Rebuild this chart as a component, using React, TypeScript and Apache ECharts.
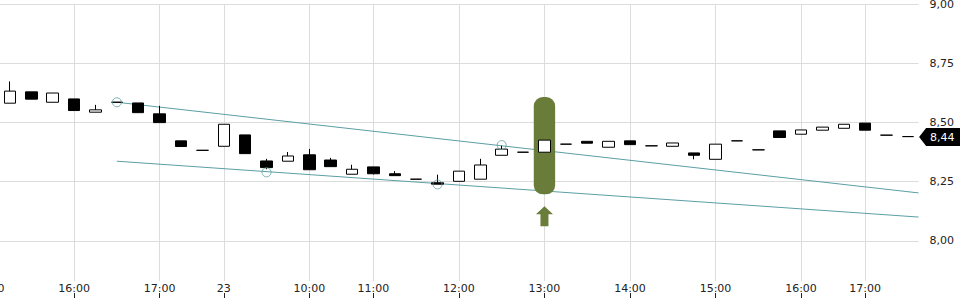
import React, { useEffect, useRef } from "react";
import * as echarts from "echarts";

// 15-minute slots; the first one (15:00) has no visible candle (scrolled off)
const categories = [
  "15:00", "15:15", "15:30", "15:45", "16:00", "16:15", "16:30", "16:45", "17:00", "17:15", "17:30",
  "23", "09:15", "09:30", "09:45", "10:00", "10:15", "10:30", "11:00", "11:15", "11:30", "11:45",
  "12:00", "12:15", "12:30", "12:45", "13:00", "13:15", "13:30", "13:45", "14:00", "14:15", "14:30",
  "14:45", "15:00", "15:15", "15:30", "15:45", "16:00", "16:15", "16:30", "17:00", "17:15", "17:30",
];
const tickLabels = ["15:00", "16:00", "17:00", "23", "10:00", "11:00", "12:00", "13:00", "14:00"];

const opens = [
  null, 8.581, 8.629, 8.585, 8.599, 8.543, 8.585, 8.582, 8.536, 8.422, 8.382,
  8.399, 8.447, 8.337, 8.336, 8.363, 8.341, 8.281, 8.312, 8.283, 8.26, 8.245,
  8.251, 8.26, 8.361, 8.374, 8.374, 8.408, 8.42, 8.395, 8.422, 8.401, 8.399,
  8.371, 8.344, 8.422, 8.384, 8.464, 8.45, 8.467, 8.475, 8.497, 8.446, 8.44,
];
const closes = [
  null, 8.632, 8.598, 8.624, 8.55, 8.553, 8.585, 8.541, 8.499, 8.398, 8.382,
  8.492, 8.368, 8.309, 8.358, 8.3, 8.313, 8.302, 8.283, 8.275, 8.26, 8.239,
  8.294, 8.32, 8.387, 8.374, 8.425, 8.408, 8.412, 8.42, 8.406, 8.401, 8.413,
  8.361, 8.408, 8.422, 8.384, 8.436, 8.468, 8.48, 8.492, 8.467, 8.446, 8.44,
];
const lows = [
  null, 8.581, 8.598, 8.585, 8.55, 8.543, 8.585, 8.541, 8.499, 8.398, 8.382,
  8.399, 8.368, 8.302, 8.336, 8.3, 8.313, 8.281, 8.28, 8.275, 8.26, 8.239,
  8.251, 8.26, 8.361, 8.374, 8.374, 8.408, 8.412, 8.395, 8.406, 8.401, 8.399,
  8.344, 8.344, 8.422, 8.384, 8.436, 8.45, 8.467, 8.475, 8.467, 8.446, 8.44,
];
const highs = [
  null, 8.673, 8.629, 8.624, 8.599, 8.574, 8.585, 8.582, 8.57, 8.422, 8.382,
  8.492, 8.447, 8.346, 8.375, 8.388, 8.35, 8.321, 8.312, 8.294, 8.26, 8.279,
  8.294, 8.346, 8.401, 8.374, 8.425, 8.408, 8.42, 8.42, 8.422, 8.401, 8.413,
  8.371, 8.408, 8.422, 8.384, 8.464, 8.468, 8.48, 8.492, 8.497, 8.446, 8.44,
];

// trend channel (x in slot index units, y in price)
const upperTrend = [[6, 8.585], [43.5, 8.202]];
const lowerTrend = [[6, 8.336], [43.5, 8.1]];
const touchPoints = [[6, 8.585], [13, 8.289], [21, 8.238], [24, 8.404]];
// highlighted slot: [index, top price, bottom price]
const highlight = [[26, 8.607, 8.196]];
const lastPrice = [[43, 8.44]];

const FONT = "DejaVu Sans";
const TEAL = "#5b9fa4";
const OLIVE = "#6a7c3a";
const GRID = "#dcdcdc";
const fmt = (v: number) => v.toFixed(2).replace(".", ",");
const isLabeled = (_i: number, v: string) => tickLabels.includes(v);

export default function App() {
  const ref = useRef<HTMLDivElement>(null);
  useEffect(() => {
    const chart = echarts.init(ref.current!, null, { renderer: "svg" });
    const candleData = opens.map((o, i) =>
      o === null ? ["-", "-", "-", "-"] : [o, closes[i], lows[i], highs[i]]
    );
    chart.setOption({
      animation: false,
      grid: {
        left: -22.1,
        right: 41.4,
        top: 4,
        height: 277,
        containLabel: false,
        outerBoundsMode: "none",
      },
      xAxis: [
        {
          type: "category",
          data: categories,
          boundaryGap: true,
          axisLine: { show: false },
          axisTick: { show: false },
          axisLabel: {
            interval: 0,
            hideOverlap: false,
            margin: 2,
            color: "#222",
            fontFamily: FONT,
            fontSize: 11,
            formatter: (v: string) => (tickLabels.includes(v) ? v : ""),
          },
          splitLine: {
            show: true,
            alignWithLabel: true,
            interval: isLabeled,
            lineStyle: { color: GRID, width: 1 },
          },
        },
        {
          type: "category",
          data: categories,
          position: "bottom",
          offset: 12,
          axisLine: { show: false },
          axisLabel: { show: false },
          axisTick: {
            show: true,
            alignWithLabel: true,
            interval: isLabeled,
            length: 5,
            lineStyle: { color: "#222" },
          },
          splitLine: { show: false },
        },
        { type: "value", position: "top", min: -0.5, max: 43.5, show: false },
      ],
      yAxis: {
        type: "value",
        position: "right",
        min: 7.83,
        max: 9,
        minInterval: 0.25,
        maxInterval: 0.25,
        axisLine: { show: false },
        axisTick: { show: true, length: 4, lineStyle: { color: "#222" } },
        axisLabel: {
          showMinLabel: false,
          margin: 11,
          color: "#222",
          fontFamily: FONT,
          fontSize: 11,
          formatter: fmt,
        },
        splitLine: { show: true, showMinLine: false, lineStyle: { color: GRID, width: 1 } },
      },
      series: [
        {
          type: "line",
          xAxisIndex: 2,
          data: upperTrend,
          showSymbol: false,
          z: 2,
          lineStyle: { color: TEAL, width: 1 },
        },
        {
          type: "line",
          xAxisIndex: 2,
          data: lowerTrend,
          showSymbol: false,
          z: 2,
          lineStyle: { color: TEAL, width: 1 },
        },
        {
          type: "custom",
          xAxisIndex: 0,
          z: 3,
          data: highlight,
          encode: { x: 0, y: [1, 2] },
          renderItem: (_p: any, api: any) => {
            const x = api.value(0);
            const top = api.coord([x, api.value(1)]);
            const bot = api.coord([x, api.value(2)]);
            const bw = api.size([1, 0], [x, api.value(1)])[0];
            const cx = top[0];
            const yb = bot[1];
            return {
              type: "group",
              children: [
                {
                  type: "rect",
                  shape: { x: cx - bw / 2, y: top[1], width: bw, height: yb - top[1], r: 9 },
                  style: { fill: OLIVE },
                },
                {
                  type: "polygon",
                  shape: {
                    points: [
                      [cx, yb + 12],
                      [cx + 8.5, yb + 20],
                      [cx + 4, yb + 20],
                      [cx + 4, yb + 32],
                      [cx - 4, yb + 32],
                      [cx - 4, yb + 20],
                      [cx - 8.5, yb + 20],
                    ],
                  },
                  style: { fill: OLIVE },
                },
              ],
            };
          },
        },
        {
          type: "candlestick",
          xAxisIndex: 0,
          z: 4,
          barWidth: 12,
          data: candleData,
          itemStyle: {
            color: "#ffffff",
            color0: "#000000",
            borderColor: "#000000",
            borderColor0: "#000000",
            borderWidth: 1,
          },
        },
        {
          type: "scatter",
          xAxisIndex: 2,
          z: 5,
          data: touchPoints,
          symbol: "circle",
          symbolSize: 9,
          itemStyle: { color: "rgba(0,0,0,0)", borderColor: TEAL, borderWidth: 1 },
        },
        {
          type: "custom",
          xAxisIndex: 0,
          z: 6,
          clip: false,
          data: lastPrice,
          encode: { x: 0, y: 1 },
          renderItem: (_p: any, api: any) => {
            const x = api.value(0);
            const v = api.value(1);
            const c = api.coord([x, v]);
            const bw = api.size([1, 0], [x, v])[0];
            const tip = c[0] + bw / 2 + 0.5;
            const cy = c[1] + 0.5;
            return {
              type: "group",
              children: [
                {
                  type: "polygon",
                  shape: {
                    points: [
                      [tip, cy],
                      [tip + 7, cy - 9],
                      [tip + 42, cy - 9],
                      [tip + 42, cy + 9],
                      [tip + 7, cy + 9],
                    ],
                  },
                  style: { fill: "#000" },
                },
                {
                  type: "text",
                  x: tip + 11,
                  y: cy,
                  style: {
                    text: fmt(v),
                    fill: "#fff",
                    font: `11px '${FONT}'`,
                    verticalAlign: "middle",
                    align: "left",
                  },
                },
              ],
            };
          },
        },
      ],
    });
    return () => chart.dispose();
  }, []);
  return (
    <div
      ref={ref}
      style={{ position: "fixed", left: 0, top: 0, width: 960, height: 300, background: "#fff" }}
    />
  );
}
